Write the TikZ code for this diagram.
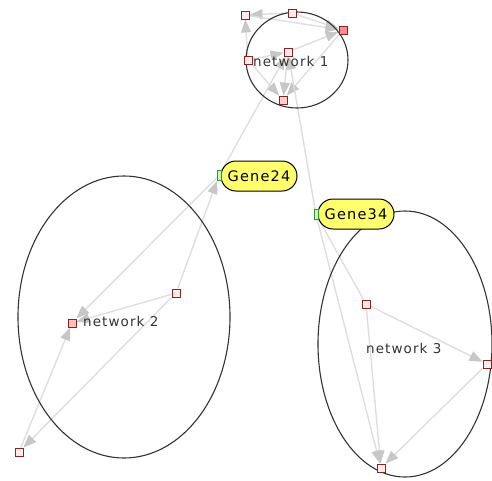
\documentclass[tikz,border=0pt]{standalone}
\usepackage{fontspec}
\setmainfont{DejaVu Sans}
\newfontfamily\labfont[LetterSpace=8]{DejaVu Sans}
\usetikzlibrary{arrows.meta,backgrounds}
\tikzset{
  sq/.style={rectangle, draw={rgb,255:red,140;green,35;blue,35}, fill=red!8, line width=0.9pt, minimum size=8pt, inner sep=0pt},
  hot/.style={sq, fill=red!45},
  gene/.style={rectangle, draw=black, line width=1pt, fill={rgb,255:red,255;green,255;blue,110}, rounded corners=15pt, minimum width=76pt, minimum height=30pt, inner sep=0pt, font=\labfont\fontsize{14.5}{14}\selectfont},
  port/.style={rectangle, draw={rgb,255:red,50;green,150;blue,50}, fill=green!25, minimum width=4pt, minimum height=10pt, inner sep=0pt, line width=0.6pt},
  ring/.style={draw=black!80, line width=1.1pt},
  netlab/.style={font=\labfont\fontsize{13.5}{14}\selectfont, text=black!80, anchor=west, inner sep=0pt},
  edge/.style={draw=black!13, line width=1.4pt, -{Triangle[length=13pt,width=10pt,color=black!22]}},
  link/.style={draw=black!13, line width=1.4pt}
}
\begin{document}
\begin{tikzpicture}[x=1pt,y=-1pt]
\useasboundingbox (0,0) rectangle (492,480);
% network rings
\draw[ring] (297,60) ellipse [x radius=51pt, y radius=48pt];
\draw[ring] (124,317) ellipse [x radius=106pt, y radius=141pt];
\draw[ring] (405,344) ellipse [x radius=87pt, y radius=133pt];
% network 1
\node[sq]  (n1a) at (245,15) {};
\node[sq]  (n1b) at (292,13) {};
\node[hot] (n1c) at (343,30) {};
\node[sq]  (n1d) at (288,52) {};
\node[sq]  (n1e) at (248,60) {};
\node[sq, fill=red!20] (n1f) at (283,100) {};
\node[netlab] (l1) at (253,61) {network 1};
% genes
\node[gene] (g24) at (259,176) {Gene24};
\node[port] (p24) at (219,175.5) {};
\node[gene] (g34) at (356,214) {Gene34};
\node[port] (p34) at (316,214.5) {};
% network 2
\node[sq, fill=red!25] (n2a) at (72,323) {};
\node[sq]  (n2b) at (176,293) {};
\node[sq]  (n2c) at (19,452) {};
\node[netlab] (l2) at (83,321) {network 2};
% network 3
\node[sq]  (n3a) at (366,304) {};
\node[sq]  (n3b) at (487,364) {};
\node[sq]  (n3c) at (381,468) {};
\node[netlab] (l3) at (366,348) {network 3};
% connectors
\begin{scope}[on background layer]
\draw[edge] (n1b) -- (n1a);
\draw[edge] (n1e) -- (n1a);
\draw[edge] (n1a) -- (n1c);
\draw[edge] (n1d) -- (n1c);
\draw[edge] (n1b) -- (n1c);
\draw[edge] (n1d) -- (n1f);
\draw[edge] (n1e) -- (n1f);
\draw[edge] (n1c) -- (n1f);
\draw[edge] (n1e) -- (n1d);
\draw[edge] (p24) -- (n1d);
\draw[edge] (p34) -- (n1d);
\draw[edge] (n2b) -- (p24);
\draw[edge] (p24) -- (n2a);
\draw[edge] (n2b) -- (n2a);
\draw[edge] (n2c) -- (n2a);
\draw[edge] (n2b) -- (n2c);
\draw[link] (p34) -- (n3a);
\draw[edge] (p34) -- (n3c);
\draw[edge] (n3a) -- (n3c);
\draw[edge] (n3a) -- (n3b);
\draw[edge] (n3b) -- (n3c);
\end{scope}
\end{tikzpicture}
\end{document}
